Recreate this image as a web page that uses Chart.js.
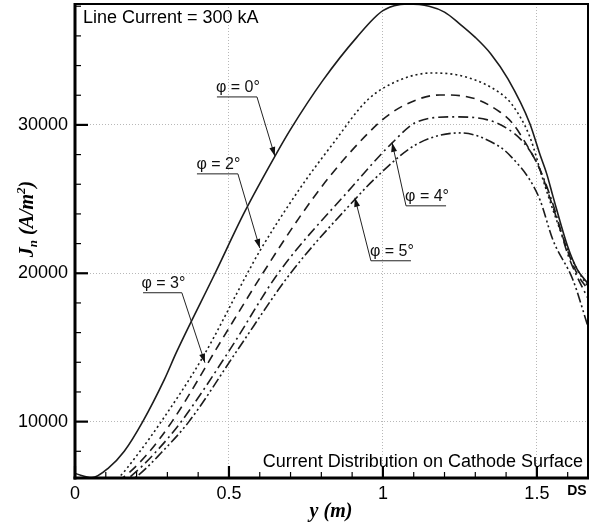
<!DOCTYPE html>
<html><head><meta charset="utf-8">
<script src="https://cdn.jsdelivr.net/npm/chart.js@4.4.0/dist/chart.umd.min.js"></script>
<style>html,body{margin:0;padding:0;background:#fff;} canvas{display:block;}</style>
</head><body>
<canvas id="c" width="597" height="529"></canvas>
<script>
// ---- data ----
const phi0X = [0, 0.055, 0.11, 0.16, 0.22, 0.29, 0.33, 0.455, 0.55, 0.655, 0.70, 0.805, 0.915, 1.0, 1.08, 1.15, 1.2, 1.25, 1.3, 1.35, 1.406, 1.477, 1.51, 1.532, 1.552, 1.6, 1.63, 1.666];
const phi0Y = [6500, 6230, 6900, 8000, 10000, 12830, 14700, 20000, 24100, 28100, 29700, 33000, 35900, 37700, 38150, 38000, 37600, 36800, 35900, 34800, 33100, 30100, 28000, 26700, 25200, 21800, 20300, 19300];

const phi2X = [0, 0.08, 0.14, 0.2, 0.28, 0.416, 0.56, 0.60, 0.73, 0.84, 0.95, 1.055, 1.16, 1.27, 1.38, 1.42, 1.477, 1.52, 1.55, 1.6, 1.63, 1.666];
const phi2Y = [5600, 5500, 6200, 7700, 10000, 14380, 20000, 21500, 25700, 28800, 31680, 33030, 33500, 33230, 32150, 31350, 29200, 26300, 24400, 21600, 20300, 19100];

const phi3X = [0, 0.08, 0.16, 0.23, 0.315, 0.477, 0.61, 0.73, 0.83, 0.95, 1.02, 1.11, 1.185, 1.29, 1.38, 1.42, 1.467, 1.51, 1.55, 1.6, 1.63, 1.666];
const phi3Y = [5500, 5400, 6300, 7700, 10000, 15520, 20000, 23800, 26600, 29400, 30700, 31700, 32020, 31820, 30870, 30130, 28650, 26970, 24600, 21500, 20000, 18900];

const phi4X = [0, 0.1, 0.18, 0.26, 0.345, 0.503, 0.66, 0.90, 1.03, 1.11, 1.23, 1.34, 1.40, 1.455, 1.5, 1.55, 1.6, 1.63, 1.666];
const phi4Y = [5400, 5300, 6300, 7900, 10000, 14850, 20000, 25830, 28790, 30200, 30540, 30340, 29800, 28860, 27440, 24800, 21300, 19800, 18300];

const phi5X = [0, 0.1, 0.2, 0.28, 0.37, 0.53, 0.70, 0.91, 0.98, 1.11, 1.25, 1.38, 1.42, 1.477, 1.51, 1.552, 1.617, 1.666];
const phi5Y = [5300, 5200, 6300, 7900, 10000, 14900, 20000, 25000, 26500, 28700, 29460, 28520, 27780, 26300, 24950, 22250, 19560, 16400];

const seriesLabels = ['φ = 0°', 'φ = 2°', 'φ = 3°', 'φ = 4°', 'φ = 5°'];

const xTickValues = [0, 0.5, 1, 1.5];
const xTickLabels = ['0', '0.5', '1', '1.5'];
const xEdgeValue = 1.63;
const xEdgeLabel = 'DS';
const yTickValues = [10000, 20000, 30000];
const yTickLabels = ['10000', '20000', '30000'];
const xMinorTicks = [0.1, 0.2, 0.3, 0.4, 0.6, 0.7, 0.8, 0.9, 1.1, 1.2, 1.3, 1.4, 1.6];
const yMinorTicks = [8000, 12000, 14000, 16000, 18000, 22000, 24000, 26000, 28000, 32000, 34000, 36000, 38000];

const xTitle = 'y (m)';
const topNote = 'Line Current = 300 kA';
const bottomNote = 'Current Distribution on Cathode Surface';

// ---- label callouts (data coordinates) ----
const callouts = [
  {series: 0, u1: 0.461, u2: 0.591, uy: 31886, end: 'right', tipX: 0.649, tipY: 27900},
  {series: 1, u1: 0.396, u2: 0.529, uy: 26700, end: 'right', tipX: 0.600, tipY: 21700},
  {series: 2, u1: 0.221, u2: 0.347, uy: 18687, end: 'right', tipX: 0.422, tipY: 13973},
  {series: 3, u1: 1.075, u2: 1.205, uy: 24545, end: 'left',  tipX: 1.030, tipY: 28790},
  {series: 4, u1: 0.961, u2: 1.091, uy: 20842, end: 'left',  tipX: 0.909, tipY: 25084}
];

const pts = (xs, ys) => xs.map((v, i) => ({x: v, y: ys[i]}));
const lineColor = '#1c1c1c';
const datasets = [
  {label: seriesLabels[0], data: pts(phi0X, phi0Y), borderDash: []},
  {label: seriesLabels[1], data: pts(phi2X, phi2Y), borderDash: [2, 3]},
  {label: seriesLabels[2], data: pts(phi3X, phi3Y), borderDash: [9, 6]},
  {label: seriesLabels[3], data: pts(phi4X, phi4Y), borderDash: [10, 4, 2, 4]},
  {label: seriesLabels[4], data: pts(phi5X, phi5Y), borderDash: [10, 3, 2, 3, 2, 3]}
].map(d => Object.assign(d, {borderColor: lineColor, borderWidth: 1.6, pointRadius: 0, fill: false, cubicInterpolationMode: 'monotone'}));

const decor = {
  id: 'decor',
  afterDatasetsDraw(chart) {
    const {ctx, scales: {x, y}} = chart;
    ctx.save();
    ctx.strokeStyle = '#222'; ctx.fillStyle = '#111'; ctx.lineWidth = 1;
    ctx.font = '16px "Liberation Sans", Arial, sans-serif';
    ctx.textAlign = 'center'; ctx.textBaseline = 'alphabetic';
    callouts.forEach(c => {
      const x1 = x.getPixelForValue(c.u1), x2 = x.getPixelForValue(c.u2), uy = y.getPixelForValue(c.uy);
      ctx.fillText(seriesLabels[c.series], (x1 + x2) / 2 + 1, uy - 5);
      ctx.beginPath(); ctx.moveTo(x1, uy); ctx.lineTo(x2, uy); ctx.stroke();
      const sx = c.end === 'right' ? x2 : x1;
      const tx = x.getPixelForValue(c.tipX), ty = y.getPixelForValue(c.tipY);
      ctx.beginPath(); ctx.moveTo(sx, uy); ctx.lineTo(tx, ty); ctx.stroke();
      const ang = Math.atan2(ty - uy, tx - sx);
      const L = 9, W = 3;
      ctx.beginPath();
      ctx.moveTo(tx, ty);
      ctx.lineTo(tx - L * Math.cos(ang) + W * Math.sin(ang), ty - L * Math.sin(ang) - W * Math.cos(ang));
      ctx.lineTo(tx - L * Math.cos(ang) - W * Math.sin(ang), ty - L * Math.sin(ang) + W * Math.cos(ang));
      ctx.closePath(); ctx.fill();
    });
    ctx.restore();
  },
  afterDraw(chart) {
    const {ctx, chartArea: a, scales: {x, y}} = chart;
    ctx.save();
    ctx.strokeStyle = '#000'; ctx.fillStyle = '#000';
    const seg = (x1, y1, x2, y2) => { ctx.beginPath(); ctx.moveTo(x1, y1); ctx.lineTo(x2, y2); ctx.stroke(); };
    ctx.lineWidth = 1.2;
    xMinorTicks.forEach(v => { const p = x.getPixelForValue(v); seg(p, a.bottom, p, a.bottom - 6); });
    yMinorTicks.forEach(v => { const p = y.getPixelForValue(v); seg(a.left, p, a.left + 6, p); });
    ctx.lineWidth = 2.2;
    xTickValues.forEach(v => { const p = x.getPixelForValue(v); seg(p, a.bottom, p, a.bottom - 12); });
    yTickValues.forEach(v => { const p = y.getPixelForValue(v); seg(a.left, p, a.left + 13, p); });
    ctx.lineWidth = 2;
    ctx.strokeRect(a.left, a.top, a.right - a.left, a.bottom - a.top);
    ctx.lineWidth = 3;
    seg(a.left, a.top - 1, a.left, a.bottom + 1.5);
    seg(a.left - 1.5, a.bottom, a.right + 1, a.bottom);
    ctx.font = '18px "Liberation Sans", Arial, sans-serif';
    ctx.textBaseline = 'alphabetic';
    ctx.textAlign = 'left';
    ctx.fillText(topNote, a.left + 8, a.top + 19);
    ctx.textAlign = 'right';
    ctx.fillText(bottomNote, a.right - 5, a.bottom - 11);
    ctx.font = 'italic bold 20px "Liberation Serif", "Times New Roman", serif';
    ctx.textAlign = 'center';
    ctx.fillText(xTitle, 331, 517);
    ctx.translate(33, 219);
    ctx.rotate(-Math.PI / 2);
    const big = 'italic bold 20px "Liberation Serif", serif';
    const small = 'italic bold 13px "Liberation Serif", serif';
    const parts = [['J', big, 0], ['n', small, 4], [' (A/m', big, 0], ['2', small, -8], [')', big, 0]];
    let total = 0;
    parts.forEach(p => { ctx.font = p[1]; total += ctx.measureText(p[0]).width; });
    let cx = -total / 2;
    ctx.textAlign = 'left';
    parts.forEach(p => { ctx.font = p[1]; ctx.fillText(p[0], cx, p[2]); cx += ctx.measureText(p[0]).width; });
    ctx.restore();
  }
};

const zeroPad = s => { s.paddingTop = 0; s.paddingBottom = 0; s.paddingLeft = 0; s.paddingRight = 0; };

new Chart(document.getElementById('c'), {
  type: 'line',
  data: {datasets},
  options: {
    responsive: false,
    animation: false,
    layout: {padding: {left: 0, right: 9, top: 4, bottom: 0}},
    plugins: {legend: {display: false}, tooltip: {enabled: false}},
    scales: {
      x: {
        type: 'linear', min: 0, max: 1.666,
        afterBuildTicks: s => { s.ticks = xTickValues.map(v => ({value: v})).concat([{value: xEdgeValue}]); },
        afterFit: s => { s.height = 51; zeroPad(s); },
        ticks: {
          autoSkip: false, maxRotation: 0, padding: 5, color: '#000',
          callback: v => v === xEdgeValue ? xEdgeLabel : xTickLabels[xTickValues.indexOf(v)],
          font: ctx => (ctx.tick && ctx.tick.value === xEdgeValue)
            ? {family: '"Liberation Sans", Arial, sans-serif', size: 14, weight: 'bold'}
            : {family: '"Liberation Sans", Arial, sans-serif', size: 18}
        },
        grid: {drawTicks: false, lineWidth: 1,
          color: ctx => (ctx.tick && (ctx.tick.value === xEdgeValue || ctx.tick.value === 0)) ? 'rgba(0,0,0,0)' : '#b8b8b8'},
        border: {display: false, dash: [1, 2]}
      },
      y: {
        type: 'linear', min: 6200, max: 38150,
        afterBuildTicks: s => { s.ticks = yTickValues.map(v => ({value: v})); },
        afterFit: s => { s.width = 75; zeroPad(s); },
        ticks: {
          padding: 7, color: '#000',
          callback: v => yTickLabels[yTickValues.indexOf(v)],
          font: {family: '"Liberation Sans", Arial, sans-serif', size: 18}
        },
        grid: {drawTicks: false, lineWidth: 1, color: '#b8b8b8'},
        border: {display: false, dash: [1, 2]}
      }
    }
  },
  plugins: [decor]
});
</script>
</body></html>
